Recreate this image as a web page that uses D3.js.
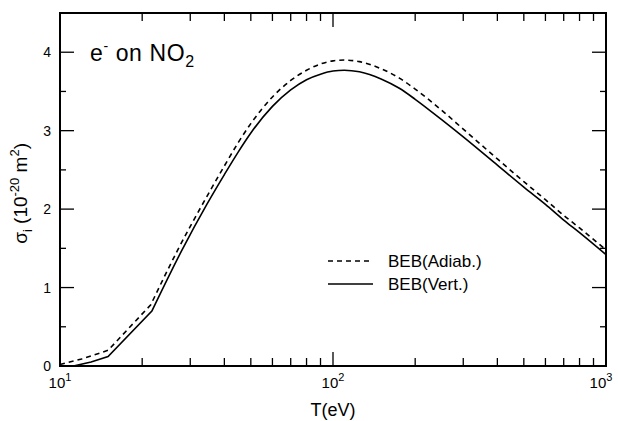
<!DOCTYPE html>
<html>
<head>
<meta charset="utf-8">
<script src="https://cdn.jsdelivr.net/npm/d3@7"></script>
<style>
  body { margin: 0; background: #fff; }
  svg text { font-family: "Liberation Sans", Arial, sans-serif; fill: #000; }
</style>
</head>
<body>
<svg id="chart" width="618" height="421"></svg>
<script>
/**
 * @fileoverview Draws the electron impact ionization cross section of NO2.
 */

// Incident energy T (eV) and cross sections (1e-20 m^2).
// The first four points are the straight threshold segment.
var adiabT = [10, 12, 15, 21.5, 27, 34.5, 40, 45, 50, 60, 70, 80, 90, 100,
  110, 125, 150, 175, 200, 250, 300, 400, 500, 600, 700, 800, 1000];
var adiabSigma = [0.02, 0.09, 0.20, 0.78, 1.48, 2.16, 2.55, 2.85, 3.09,
  3.43, 3.64, 3.77, 3.85, 3.89, 3.90, 3.88, 3.79, 3.67, 3.53, 3.26, 3.02,
  2.64, 2.35, 2.12, 1.92, 1.76, 1.48];

var vertT = [11.2, 13, 15, 21.7, 28, 34.5, 40, 45, 50, 60, 70, 80, 90, 100,
  110, 125, 150, 175, 200, 250, 300, 400, 500, 600, 700, 800, 1000];
var vertSigma = [0, 0.05, 0.12, 0.70, 1.48, 2.06, 2.44, 2.73, 2.97,
  3.31, 3.52, 3.65, 3.72, 3.76, 3.77, 3.75, 3.66, 3.54, 3.40, 3.14, 2.92,
  2.56, 2.28, 2.06, 1.86, 1.70, 1.42];

var xMajorTicks = [10, 100, 1000];
var xLabelExp = ['1', '2', '3'];
var yTicks = [0, 1, 2, 3, 4];
var legendNames = ['BEB(Adiab.)', 'BEB(Vert.)'];

var margin = {top: 13, right: 12, bottom: 55, left: 60};
var width = 618 - margin.left - margin.right;
var height = 421 - margin.top - margin.bottom;

var svg = d3.select('#chart');
var g = svg.append('g').
    attr('transform', 'translate(' + margin.left + ',' + margin.top + ')');

var x = d3.scaleLog().domain([10, 1000]).range([0, width]);
var y = d3.scaleLinear().domain([0, 4.5]).range([height, 0]);

// Minor x ticks: 2..9 of each decade.
var xMinor = [];
[10, 100].forEach(function(d) {
  for (var k = 2; k < 10; k++) xMinor.push(d * k);
});
var yMinor = d3.range(0.5, 4.5, 1);

/**
 * Draws inward ticks on one side of the frame.
 * @param {Array<number>} vals Tick values.
 * @param {string} side One of left, right, top, bottom.
 * @param {number} len Tick length in px.
 */
function drawTicks(vals, side, len) {
  var sel = g.append('g').selectAll('line').data(vals).join('line').
      attr('stroke', '#000').attr('stroke-width', 1.3);
  if (side == 'left' || side == 'right') {
    var x0 = side == 'left' ? 0 : width;
    var dx = side == 'left' ? len : -len;
    sel.attr('x1', x0).attr('x2', x0 + dx).
        attr('y1', function(d) { return y(d); }).
        attr('y2', function(d) { return y(d); });
  } else {
    var y0 = side == 'bottom' ? height : 0;
    var dy = side == 'bottom' ? -len : len;
    sel.attr('y1', y0).attr('y2', y0 + dy).
        attr('x1', function(d) { return x(d); }).
        attr('x2', function(d) { return x(d); });
  }
}

drawTicks(yTicks, 'left', 14);
drawTicks(yMinor, 'left', 6);
drawTicks(yTicks, 'right', 14);
drawTicks(yMinor, 'right', 6);
drawTicks(xMajorTicks, 'bottom', 14);
drawTicks(xMinor, 'bottom', 8);
drawTicks(xMajorTicks, 'top', 14);
drawTicks(xMinor, 'top', 8);

// Frame.
g.append('rect').attr('width', width).attr('height', height).
    attr('fill', 'none').attr('stroke', '#000').attr('stroke-width', 2);

// Y tick labels.
g.append('g').selectAll('text').data(yTicks).join('text').
    attr('x', -9).attr('y', function(d) { return y(d) + 5; }).
    attr('text-anchor', 'end').attr('font-size', 14).
    text(function(d) { return d; });

// X tick labels as powers of ten.
var xl = g.append('g').selectAll('text').data(xMajorTicks).join('text').
    attr('x', function(d, i) { return x(d) + (i == 2 ? -5 : 0); }).
    attr('y', height + 22).
    attr('text-anchor', 'middle').attr('font-size', 15);
xl.append('tspan').text('10');
xl.append('tspan').attr('dy', -7).attr('font-size', 11).
    text(function(d, i) { return xLabelExp[i]; });

// Axis titles.
g.append('text').attr('x', x(100)).attr('y', height + 50).
    attr('text-anchor', 'middle').attr('font-size', 18).text('T(eV)');

var yt = g.append('text').
    attr('transform', 'translate(' + (-33) + ',' + y(2.2) + ') rotate(-90)').
    attr('text-anchor', 'middle').attr('font-size', 19);
yt.append('tspan').text('\u03c3');
yt.append('tspan').attr('dy', 5).attr('font-size', 13).text('i');
yt.append('tspan').attr('dy', -5).text(' (10');
yt.append('tspan').attr('dy', -8).attr('font-size', 13).text('-20');
yt.append('tspan').attr('dy', 8).text(' m');
yt.append('tspan').attr('dy', -8).attr('font-size', 13).text('2');
yt.append('tspan').attr('dy', 8).text(')');

// Title.
var title = g.append('text').attr('x', 30).attr('y', 48).
    attr('font-size', 23).attr('letter-spacing', 0.6);
title.append('tspan').text('e');
title.append('tspan').attr('dy', -10).attr('font-size', 14).text('-');
title.append('tspan').attr('dy', 10).text(' on NO');
title.append('tspan').attr('dy', 6).attr('font-size', 16).text('2');

// Curves: straight threshold part, then a smooth part.
var straight = d3.line().
    x(function(d) { return x(d[0]); }).
    y(function(d) { return y(d[1]); });
var smooth = d3.line().
    x(function(d) { return x(d[0]); }).
    y(function(d) { return y(d[1]); }).
    curve(d3.curveMonotoneX);

var series = [
  {t: adiabT, s: adiabSigma, dash: '5,4'},
  {t: vertT, s: vertSigma, dash: null}
];

series.forEach(function(sr) {
  var pts = d3.zip(sr.t, sr.s);
  var d = straight(pts.slice(0, 4)) + smooth(pts.slice(3)).replace(/^M/, 'L');
  g.append('path').attr('d', d).attr('fill', 'none').attr('stroke', '#000').
      attr('stroke-width', 1.6).attr('stroke-dasharray', sr.dash);
});

// Legend.
var legend = g.append('g').attr('transform', 'translate(268,248)');
legendNames.forEach(function(name, i) {
  legend.append('line').attr('x1', 0).attr('x2', 45).
      attr('y1', i * 23).attr('y2', i * 23).
      attr('stroke', '#000').attr('stroke-width', 1.5).
      attr('stroke-dasharray', series[i].dash);
  legend.append('text').attr('x', 60).attr('y', i * 23 + 6).
      attr('font-size', 17).text(name);
});
</script>
</body>
</html>
